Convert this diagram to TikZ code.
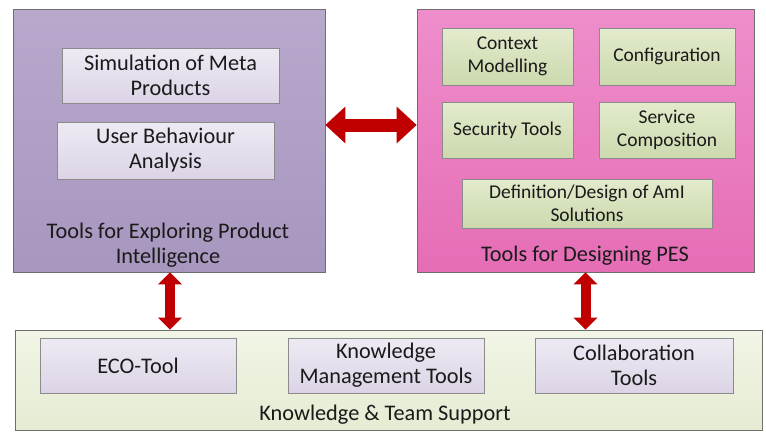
\documentclass[tikz,border=0pt]{standalone}
\usepackage{fontspec}
\setmainfont{Carlito}
\usetikzlibrary{arrows.meta}
\definecolor{purpT}{HTML}{B8A8CC}
\definecolor{purpB}{HTML}{A797BF}
\definecolor{pinkT}{HTML}{EE8ECB}
\definecolor{pinkB}{HTML}{E56DB5}
\definecolor{lavT}{HTML}{EEEAF3}
\definecolor{lavB}{HTML}{DCD4E6}
\definecolor{grnT}{HTML}{E2EBCC}
\definecolor{grnB}{HTML}{CCD9AE}
\definecolor{lgrnT}{HTML}{F1F5E6}
\definecolor{lgrnB}{HTML}{E5ECD3}
\definecolor{arrowred}{HTML}{C00000}
\definecolor{txt}{HTML}{1A1A1A}
\definecolor{bord}{HTML}{6E6E6E}
\tikzset{
  x=1pt, y=-1pt,
  outer/.style={draw=bord, line width=0.8pt, inner sep=0pt},
  inbox/.style={draw=bord!80, line width=0.8pt, align=center, inner sep=0pt, text=txt},
  lavbox/.style={inbox, top color=lavT, bottom color=lavB},
  grnbox/.style={inbox, top color=grnT, bottom color=grnB},
  bigfont/.style={font=\fontsize{22.3}{25}\selectfont},
  smallfont/.style={font=\fontsize{19.5}{23}\selectfont},
  title/.style={align=center, text=txt, inner sep=0pt},
  bigarrow/.style={draw=arrowred, line width=#1,
    {Triangle[length=20pt,width=37pt,line width=0pt]}-{Triangle[length=20pt,width=37pt,line width=0pt]}},
  vertarrow/.style={draw=arrowred, line width=10pt,
    {Triangle[length=12pt,width=24pt,line width=0pt]}-{Triangle[length=12pt,width=24pt,line width=0pt]}}
}
\begin{document}
\begin{tikzpicture}
\useasboundingbox[fill=white] (0,0) rectangle (766,434);
% outer boxes
\node[outer, top color=purpT, bottom color=purpB, minimum width=312pt, minimum height=263pt] (lbox) at (169,140.5) {};
\node[outer, top color=pinkT, bottom color=pinkB, minimum width=337pt, minimum height=263pt] (rbox) at (585.5,140.5) {};
\node[outer, top color=lgrnT, bottom color=lgrnB, minimum width=747pt, minimum height=100pt] (bbox) at (388.5,380) {};
% left inner
\node[lavbox, bigfont, minimum width=217pt, minimum height=55pt] (sim) at (170.5,75.5) {Simulation of Meta\\Products};
\node[lavbox, bigfont, minimum width=217pt, minimum height=57pt] (uba) at (165.5,150.5) {User Behaviour\\Analysis};
\node[title, bigfont] (ltitle) at (168,245.5) {Tools for Exploring Product\\Intelligence};
% right inner
\node[grnbox, smallfont, minimum width=131pt, minimum height=57pt] (ctx) at (507.5,56.5) {Context\\Modelling};
\node[grnbox, smallfont, minimum width=136pt, minimum height=57pt] (cfg) at (667,56.5) {Configuration};
\node[grnbox, smallfont, minimum width=131pt, minimum height=56pt] (sec) at (507.5,130) {Security Tools};
\node[grnbox, smallfont, minimum width=136pt, minimum height=56pt] (svc) at (667,130) {Service\\Composition};
\node[grnbox, smallfont, minimum width=250pt, minimum height=49pt] (def) at (587,203.5) {Definition/Design of AmI\\Solutions};
\node[title, bigfont] (rtitle) at (585,256) {Tools for Designing PES};
% bottom inner
\node[lavbox, bigfont, minimum width=196pt, minimum height=55pt] (eco) at (138,365.5) {ECO-Tool};
\node[lavbox, bigfont, minimum width=196pt, minimum height=55pt] (kmt) at (386,365.5) {Knowledge\\Management Tools};
\node[lavbox, bigfont, minimum width=198pt, minimum height=55pt] (col) at (634,365.5) {Collaboration\\Tools};
\node[title, bigfont] (btitle) at (385,415) {Knowledge \& Team Support};
% arrows
\draw[bigarrow=13pt] ([yshift=15.5pt]lbox.east) -- ([yshift=15.5pt]rbox.west);
\draw[vertarrow] ([xshift=1pt]lbox.south) -- ([xshift=1pt]lbox.south |- bbox.north);
\draw[vertarrow] (rbox.south) -- (rbox.south |- bbox.north);
\end{tikzpicture}
\end{document}
